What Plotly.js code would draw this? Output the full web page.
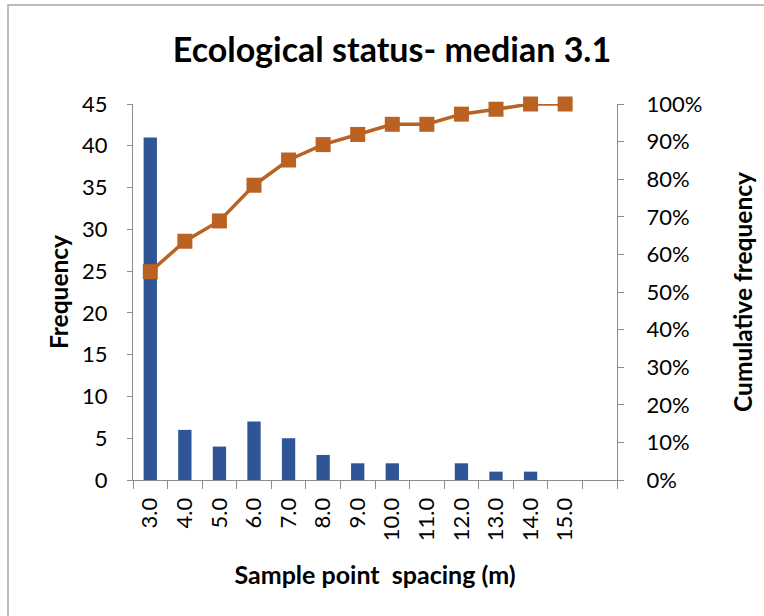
<!DOCTYPE html>
<html>
<head>
<meta charset="utf-8">
<script src="https://cdn.plot.ly/plotly-3.0.1.min.js"></script>
<style>
html,body{margin:0;padding:0;background:#fff;}
#chart{width:764px;height:616px;}
</style>
</head>
<body>
<div id="chart"></div>
<script>
// Sample point spacing categories (m)
const categories = ["3.0","4.0","5.0","6.0","7.0","8.0","9.0","10.0","11.0","12.0","13.0","14.0","15.0"];
// Frequency (count) per spacing
const frequency = [41, 6, 4, 7, 5, 3, 2, 2, 0, 2, 1, 1, 0];
// Cumulative frequency (fraction)
const cumulative = [0.554, 0.635, 0.689, 0.784, 0.851, 0.892, 0.919, 0.946, 0.946, 0.973, 0.986, 1.0, 1.0];
// Left axis ticks
const freqTicks = [0, 5, 10, 15, 20, 25, 30, 35, 40, 45];
// Right axis ticks
const cumTicks = [0, 0.1, 0.2, 0.3, 0.4, 0.5, 0.6, 0.7, 0.8, 0.9, 1.0];

const FONT = "Lato, 'Open Sans', sans-serif";
const axisColor = "#8c8c8c";

// extra empty slot at the end of the category axis (as in the original)
const allCats = categories.concat([" "]);

const traces = [
  {
    type: "bar",
    x: categories,
    y: frequency,
    marker: {color: "#2f5597"},
    yaxis: "y",
    hoverinfo: "x+y"
  },
  {
    type: "scatter",
    mode: "lines+markers",
    x: categories,
    y: cumulative,
    yaxis: "y2",
    line: {color: "#bb6122", width: 3.5},
    marker: {symbol: "square", size: 15, color: "#bb6122"},
    cliponaxis: false
  }
];

const W = 764, H = 616;
const L = 133, R = 617, T = 104, B = 480;
const px = v => (v - L) / (R - L);
const py = v => 1 - (v - T) / (B - T);

const layout = {
  width: W, height: H,
  margin: {l: L, r: W - R, t: T, b: H - B},
  paper_bgcolor: "#ffffff",
  plot_bgcolor: "#ffffff",
  showlegend: false,
  bargap: 0.615,
  font: {family: FONT, color: "#000000", size: 22},
  title: {
    text: "<b>Ecological status- median 3.1</b>",
    font: {family: FONT, size: 34, color: "#000"},
    x: 392 / W, xanchor: "center", xref: "container",
    y: 1 - 50 / H, yanchor: "middle", yref: "container"
  },
  xaxis: {
    type: "category",
    categoryorder: "array",
    categoryarray: allCats,
    range: [-0.5, allCats.length - 0.5],
    tickson: "boundaries",
    ticks: "outside",
    ticklen: 8,
    tickcolor: axisColor,
    tickwidth: 1,
    showline: true,
    linecolor: axisColor,
    linewidth: 1,
    showgrid: false,
    zeroline: false,
    tickangle: -90,
    tickfont: {family: FONT, size: 22, color: "#000"},
    ticklabelstandoff: 8,
    title: {
      text: "<b>Sample point\u00A0\u00A0spacing (m)</b>",
      font: {family: FONT, size: 25, color: "#000"},
      standoff: 26
    },
    fixedrange: true
  },
  yaxis: {
    range: [0, 45],
    tickvals: freqTicks,
    ticks: "outside",
    ticklen: 5,
    tickcolor: axisColor,
    showline: true,
    linecolor: axisColor,
    linewidth: 1,
    showgrid: false,
    zeroline: false,
    tickfont: {family: FONT, size: 22, color: "#000"},
    ticklabelstandoff: 15,
    title: {
      text: "<b>Frequency</b>",
      font: {family: FONT, size: 24.5, color: "#000"},
      standoff: 6
    },
    fixedrange: true
  },
  yaxis2: {
    overlaying: "y",
    side: "right",
    range: [0, 1],
    tickvals: cumTicks,
    tickformat: ".0%",
    ticks: "outside",
    ticklen: 6,
    tickcolor: axisColor,
    showline: true,
    linecolor: axisColor,
    linewidth: 1,
    showgrid: false,
    zeroline: false,
    tickfont: {family: FONT, size: 22, color: "#000"},
    ticklabelstandoff: 18,
    title: {
      text: "<b>Cumulative frequency</b>",
      font: {family: FONT, size: 24.5, color: "#000"},
      standoff: 33
    },
    fixedrange: true
  },
  shapes: [
    {
      type: "rect", xref: "paper", yref: "paper",
      x0: px(8), x1: px(800), y0: py(5), y1: py(660),
      line: {color: "#a6a6a6", width: 1.5},
      fillcolor: "rgba(0,0,0,0)", layer: "below"
    }
  ]
};

Plotly.newPlot("chart", traces, layout, {staticPlot: true, displayModeBar: false});
</script>
</body>
</html>
